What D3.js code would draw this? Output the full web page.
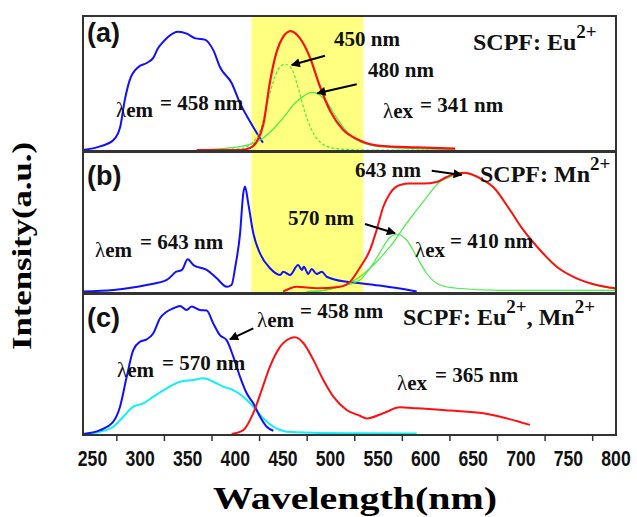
<!DOCTYPE html>
<html><head><meta charset="utf-8">
<script src="https://cdn.jsdelivr.net/npm/d3@7"></script>
<style>body{margin:0;background:#fff}svg{display:block}</style>
</head><body>
<script>
// ---------- DATA ----------
const xTicks = [250,300,350,400,450,500,550,600,650,700,750,800];
const minorTicks = [275,325,375,425,475,525,575,625,675,725,775];
const band = [417, 534.5];

// Panel (a)
const blueA_nm = [240,258,272,279,284,289,298,307,314,319,323,329,340,349,358,368,377,384,396,405,419,429];
const blueA_v  = [0,0.03,0.083,0.19,0.42,0.58,0.69,0.725,0.77,0.85,0.89,0.94,0.985,0.97,0.93,0.92,0.83,0.69,0.56,0.39,0.19,0.06];
const redA_nm  = [359.5,405,415.5,422.5,429.4,436.5,443.5,450.1,458.2,468,478.5,488,500,513,528,541,552,591,631];
const redA_v   = [0,0,0.017,0.07,0.21,0.57,0.82,0.94,0.99,0.93,0.77,0.55,0.32,0.17,0.09,0.05,0.035,0.022,0.012];
const g450_nm  = [359.5,405,415,422,426,431,438,445,452,459,466,473,480,490,500,515,540,631];
const g450_v   = [0,0.01,0.04,0.1,0.16,0.3,0.52,0.67,0.715,0.68,0.52,0.32,0.17,0.06,0.02,0.005,0,0];
const g480_nm  = [359.5,405,429,447,464,481.5,496,506.5,520.5,534.5,552,590,631];
const g480_v   = [0,0.028,0.097,0.236,0.40,0.48,0.40,0.267,0.125,0.056,0.028,0.012,0.008];

// Panel (b)
const blueB_nm = [240,272,307,328,338,344,350,356,370,380.5,391,396,400,405,408.4,410.2,413.7,419,426,436.5,447,450.5,457.5,466,470,472,476.7,480.3,485.5,491,496,517,531,555,590.6];
const blueB_v  = [0,0.0125,0.054,0.096,0.165,0.18,0.268,0.22,0.18,0.11,0.04,0.054,0.206,0.483,0.817,0.875,0.73,0.483,0.317,0.194,0.138,0.165,0.138,0.221,0.18,0.206,0.146,0.188,0.146,0.165,0.123,0.081,0.068,0.045,0.0];
const redB_nm  = [450.4,464.5,485.5,510,520.5,531,541.5,548.5,555.5,562.5,573,583.6,597.5,611.6,622.1,632.6,641.3,650,660.6,671,688.6,702.6,720.1,737.7,758.7,779.7,799];
const redB_v   = [0,0.04,0.027,0.04,0.08,0.2,0.346,0.513,0.706,0.817,0.888,0.9,0.9,0.913,0.954,0.985,0.99,0.971,0.929,0.871,0.679,0.513,0.346,0.207,0.11,0.054,0.027];
const g570_nm  = [475,489,510,531,545,555.5,562.5,569.6,580,590.6,601,615,632.6,678,799];
const g570_v   = [0,0.005,0.04,0.096,0.235,0.373,0.452,0.477,0.429,0.29,0.152,0.054,0.027,0.01,0.01];
const g643_nm  = [475,489,510,531,545,562.5,580,597.5,615,625.6,641.3,650,660.6,671,688.6,702.6,720.1,737.7,758.7,779.7,799];
const g643_v   = [0,0.005,0.04,0.123,0.221,0.373,0.568,0.748,0.915,0.954,0.985,0.97,0.925,0.868,0.676,0.51,0.343,0.205,0.108,0.05,0.022];

// Panel (c)
const blueC_nm = [240.3,257.9,271.8,278.9,285.9,292.8,299.9,306.9,313.9,320.9,327.9,334.9,341.9,348.9,354.2,362.9,370,376.9,383.9,391,397.9,405,412,418.9,426,433,440];
const blueC_v  = [0,0.03,0.095,0.21,0.44,0.646,0.71,0.728,0.775,0.89,0.94,0.967,0.985,0.954,0.98,0.954,0.95,0.85,0.76,0.72,0.595,0.44,0.313,0.236,0.133,0.056,0.025];
const cyanC_nm = [240.3,257.9,271.8,282.3,292.8,303.4,313.9,327.9,341.9,355.9,366.4,376.9,387.4,397.9,408.4,418.9,429.4,440,454,482,531,590.6];
const cyanC_v  = [0,0.018,0.056,0.133,0.21,0.236,0.287,0.351,0.402,0.415,0.428,0.402,0.364,0.338,0.287,0.21,0.12,0.056,0.018,0.01,0.006,0.004];
const redC_nm  = [396.2,408.4,418.9,427.8,436.5,447,457.5,462.7,471.5,482,492.5,503,517,531,538,555.5,573,590.6,625.6,660.6,685.2,709.6];
const redC_v   = [0,0.03,0.16,0.34,0.52,0.67,0.736,0.744,0.70,0.57,0.415,0.287,0.185,0.14,0.12,0.16,0.205,0.198,0.18,0.16,0.12,0.07];

// ---------- LAYOUT ----------
const W = 637, H = 517;
const L = 83, R = 616;
const panels = [
  {top:16,  bottom:151, base:150,   span:120},
  {top:152, bottom:293, base:291.5, span:120},
  {top:294, bottom:435, base:434,   span:130}
];
const svg = d3.select("body").append("svg").attr("width",W).attr("height",H);
const x = d3.scaleLinear().domain([240,800]).range([L,R]);
const ys = panels.map(p => d3.scaleLinear().domain([0,1]).range([p.base, p.base - p.span]));

svg.append("defs").append("marker").attr("id","ah")
  .attr("viewBox","0 0 10 10").attr("refX",9).attr("refY",5)
  .attr("markerWidth",11).attr("markerHeight",9).attr("markerUnits","userSpaceOnUse")
  .attr("orient","auto").append("path").attr("d","M0,0 L10,5 L0,10 Z").attr("fill","#000");

// yellow band across panels a and b
svg.append("rect").attr("x",x(band[0])).attr("y",panels[0].top)
  .attr("width",x(band[1])-x(band[0])).attr("height",panels[1].bottom-panels[0].top)
  .attr("fill","#ffff80");

function curve(pi, xs, vs, color, w, dash){
  const line = d3.line().x(d=>x(d[0])).y(d=>ys[pi](d[1])).curve(d3.curveMonotoneX);
  svg.append("path").attr("d", line(d3.zip(xs,vs))).attr("fill","none")
    .attr("stroke",color).attr("stroke-width",w).attr("stroke-linejoin","round")
    .attr("stroke-dasharray", dash || null);
}
const BLUE="#1010ff", RED="#ff1010", GREEN="#44ee44", CYAN="#10f0f8";
curve(0, blueA_nm, blueA_v, BLUE, 2);
curve(0, g480_nm, g480_v, GREEN, 1.2);
curve(0, g450_nm, g450_v, GREEN, 1.2, "3,2");
curve(0, redA_nm, redA_v, RED, 2.2);

curve(1, blueB_nm, blueB_v, BLUE, 2);
curve(1, g570_nm, g570_v, GREEN, 1.2);
curve(1, g643_nm, g643_v, GREEN, 1.2);
curve(1, redB_nm, redB_v, RED, 2);

curve(2, cyanC_nm, cyanC_v, CYAN, 2);
curve(2, blueC_nm, blueC_v, BLUE, 2);
curve(2, redC_nm, redC_v, RED, 2);

// panel frames
panels.forEach(p=>{
  svg.append("rect").attr("x",L).attr("y",p.top).attr("width",R-L).attr("height",p.bottom-p.top)
    .attr("fill","none").attr("stroke","#333").attr("stroke-width",2);
});

// x axis ticks
const axisG = svg.append("g").attr("transform",`translate(0,${panels[2].bottom})`);
axisG.call(d3.axisBottom(x).tickValues(xTicks).tickSize(6).tickFormat(""))
  .call(g=>g.select(".domain").remove());
axisG.call(d3.axisBottom(x).tickValues(minorTicks).tickSize(6).tickFormat(""))
  .call(g=>g.select(".domain").remove());
axisG.selectAll("line").attr("stroke","#333").attr("stroke-width",1.5);
xTicks.forEach(t=>{
  svg.append("text").attr("transform",`translate(${x(t)},466) scale(0.8,1)`)
    .attr("text-anchor","middle").attr("font-family","Liberation Sans, Arial, sans-serif")
    .attr("font-weight","bold").attr("font-size",22).attr("fill","#111").text(t);
});

// titles
svg.append("text").attr("x",355).attr("y",509).attr("text-anchor","middle")
  .attr("font-family","Liberation Serif, Times New Roman, serif").attr("font-weight","bold")
  .attr("font-size",31).attr("textLength",284).attr("lengthAdjust","spacingAndGlyphs")
  .text("Wavelength(nm)");
svg.append("text").attr("transform","translate(31,246) rotate(-90)").attr("text-anchor","middle")
  .attr("font-family","Liberation Serif, Times New Roman, serif").attr("font-weight","bold")
  .attr("font-size",27).attr("textLength",208).attr("lengthAdjust","spacingAndGlyphs")
  .text("Intensity(a.u.)");

// panel letters
const SANS="Liberation Sans, Arial, sans-serif", SERIF="Liberation Serif, Times New Roman, serif";
[["(a)",42],["(b)",185],["(c)",327]].forEach(([s,yy])=>{
  svg.append("text").attr("x",87).attr("y",yy).attr("font-family",SANS).attr("font-weight","bold")
    .attr("font-size",27).attr("fill","#111").text(s);
});

function t(xx,yy,s,size,opts){
  opts = opts||{};
  return svg.append("text").attr("x",xx).attr("y",yy).attr("font-family",SERIF)
    .attr("font-weight",opts.normal?"normal":"bold").attr("font-size",size).attr("fill","#111").text(s);
}
function lam(xx,yy,sub,x2,y2,rest){
  const el = svg.append("text").attr("x",xx).attr("y",yy).attr("font-family",SERIF).attr("font-size",21).attr("fill","#111");
  el.append("tspan").text("λ");
  el.append("tspan").attr("font-weight","bold").text(sub);
  t(x2,y2,rest,21);
}
function arrow(pi, a, b){
  svg.append("line").attr("x1",x(a[0])).attr("y1",ys[pi](a[1])).attr("x2",x(b[0])).attr("y2",ys[pi](b[1]))
    .attr("stroke","#000").attr("stroke-width",2).attr("marker-end","url(#ah)");
}
function scpf(xx,yy,parts){
  const el = svg.append("text").attr("x",xx).attr("y",yy).attr("font-family",SERIF).attr("font-weight","bold").attr("font-size",24).attr("fill","#111");
  parts.forEach(([s,sup])=>{
    const ts = el.append("tspan").text(s);
    if(sup){ ts.attr("font-size",19).attr("dy",-12); }
    else { ts.attr("dy", el.selectAll("tspan").size()>1 ? 12 : 0); }
  });
}

// Panel a annotations
t(334,46,"450 nm",21);
t(368,77,"480 nm",21);
arrow(0,[494.3,0.786],[459.3,0.708]);
arrow(0,[527.6,0.548],[486.2,0.4725]);
lam(116,117,"em",160,110,"= 458 nm");
lam(383,118,"ex",420,112,"= 341 nm");
scpf(473,50,[["SCPF: Eu"],["2+",1]]);

// Panel b annotations
lam(95,257,"em",140,249,"= 643 nm");
t(288,225,"570 nm",21);
arrow(1,[536.3,0.5625],[567.8,0.485]);
t(355,177,"643 nm",21);
arrow(1,[606.4,1.007],[637.9,0.971]);
scpf(480,182,[["SCPF: Mn"],["2+",1]]);
lam(415,257,"ex",450,248,"= 410 nm");

// Panel c annotations
lam(257,327,"em",300,318,"= 458 nm");
arrow(2,[418.9,0.813],[394.4,0.728]);
lam(117,377,"em",162,370,"= 570 nm");
scpf(403,325,[["SCPF: Eu"],["2+",1],[", Mn"],["2+",1]]);
lam(397,390,"ex",435,382,"= 365 nm");
</script>
</body></html>
